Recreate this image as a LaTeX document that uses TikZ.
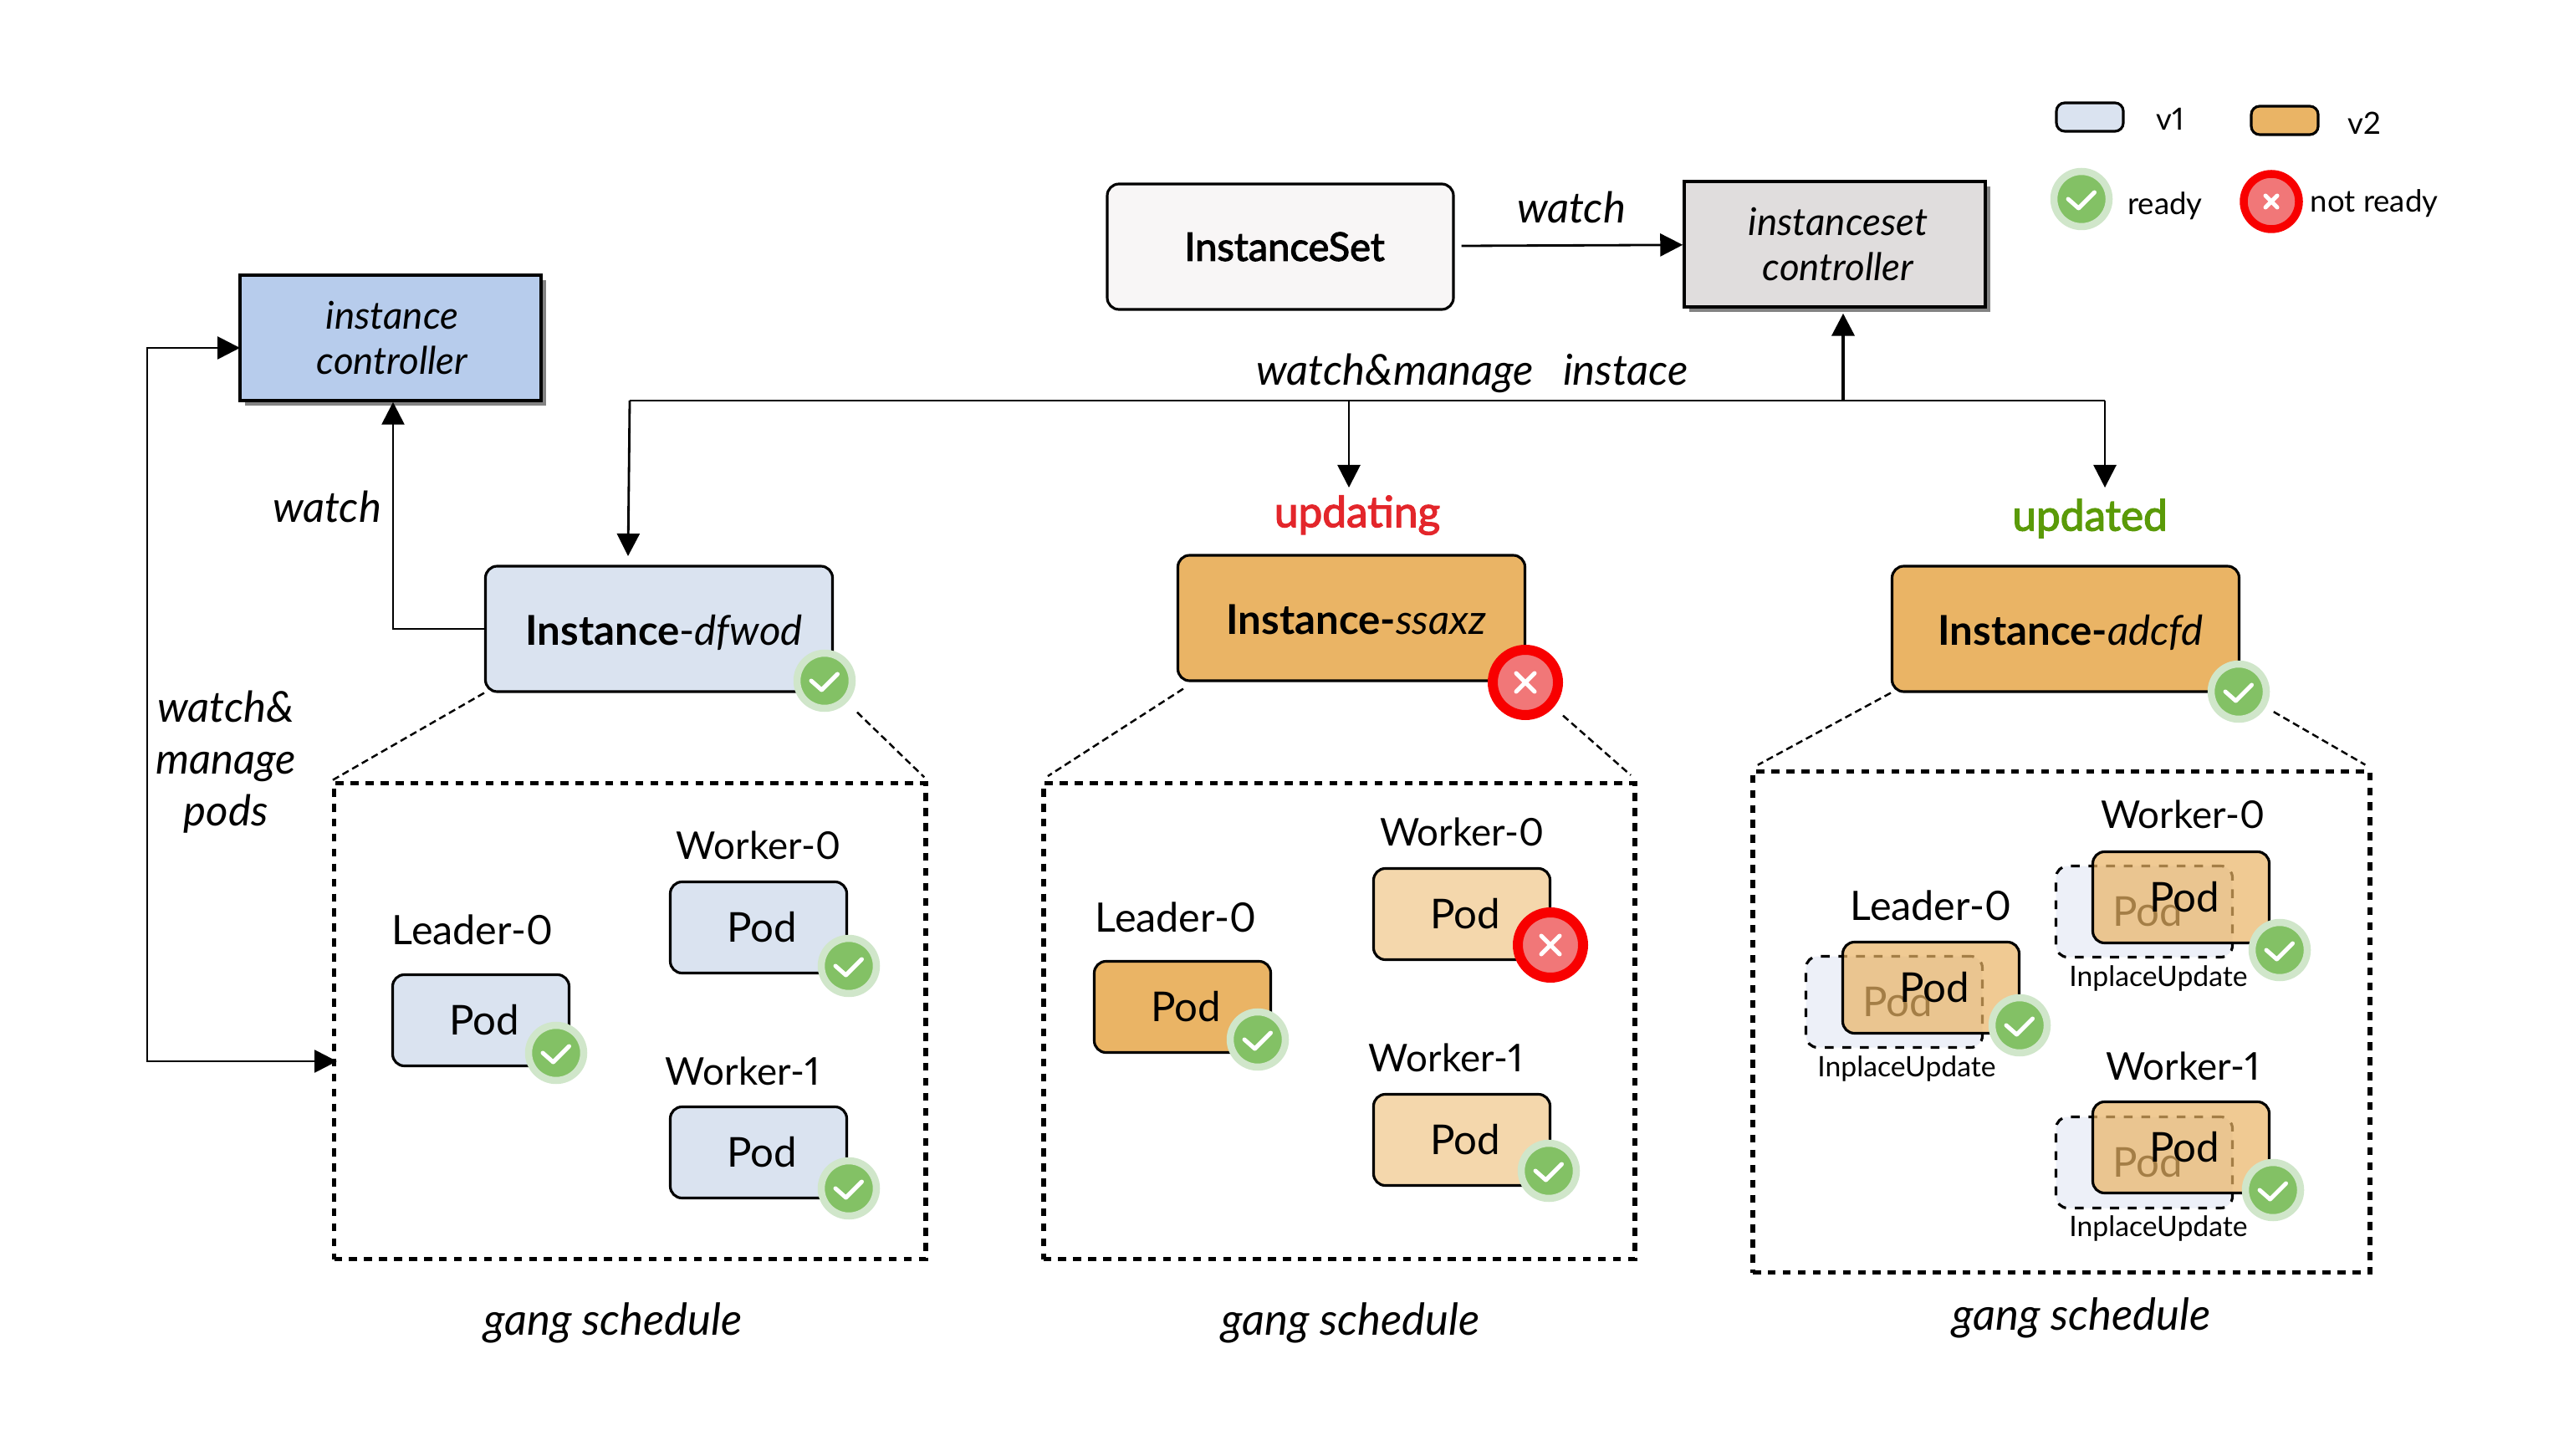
\documentclass[tikz,border=0pt]{standalone}
\usepackage{fontspec}
\setmainfont{Lato}[Numbers=Proportional]
\newfontfamily\medfont[FakeBold=2.5, Numbers=Proportional]{Lato}
\usepackage{tikz}
\usetikzlibrary{arrows.meta, positioning, calc, shadows}

\definecolor{vonefill}{HTML}{DAE3F0}
\definecolor{vtwofill}{HTML}{EAB465}
\definecolor{vtwolight}{HTML}{F4D7AC}
\definecolor{ghostfill}{HTML}{EDF0F8}
\definecolor{okgreen}{HTML}{83C165}
\definecolor{okring}{HTML}{D0E6CA}
\definecolor{failred}{HTML}{F17778}
\definecolor{failring}{HTML}{F80000}
\definecolor{instctrlfill}{HTML}{B7CCEC}
\definecolor{setctrlfill}{HTML}{E0DDDD}
\definecolor{setfill}{HTML}{F8F6F6}
\definecolor{updatingred}{HTML}{E3262B}
\definecolor{updatedgreen}{HTML}{5A9A08}

\begin{document}
\begin{tikzpicture}[
  ctrlbox/.style={draw, line width=1pt, minimum width=3.6cm, minimum height=1.5cm, align=center, font=\fontsize{13}{15.5}\selectfont\itshape, drop shadow={shadow xshift=0.06cm, shadow yshift=-0.06cm, opacity=0.65, fill=black!75}},
  instbox/.style={draw, line width=0.9pt, rounded corners=0.14cm, minimum width=4.15cm, minimum height=1.5cm, text height=0.4cm, text depth=0cm, font=\fontsize{14}{16}\selectfont},
  podbox/.style={draw, line width=0.9pt, rounded corners=0.14cm, minimum width=2.11cm, minimum height=1.09cm, font=\fontsize{14}{16}\selectfont},
  newpod/.style={podbox, fill=vtwofill, fill opacity=0.7, text opacity=1},
  ghostpod/.style={podbox, dashed, fill=ghostfill},
  legendbox/.style={draw, line width=0.9pt, rounded corners=0.1cm, minimum width=0.8cm, minimum height=0.34cm},
  group/.style={draw, line width=1.7pt, dash pattern=on 2.7pt off 2.4pt, minimum width=7.07cm, minimum height=5.69cm},
  guide/.style={line width=0.7pt, dash pattern=on 2.4pt off 1.4pt},
  arrow/.style={-{Triangle[length=0.27cm, width=0.27cm]}, line width=0.8pt},
  lbl/.style={font=\fontsize{13.8}{16}\selectfont},
  worklbl/.style={font=\fontsize{13}{16}\selectfont},
  note/.style={font=\fontsize{14.5}{17.7}\selectfont\itshape, align=center},
  gang/.style={font=\fontsize{15}{17}\selectfont\itshape},
  small/.style={font=\fontsize{10.4}{12}\selectfont},
  tiny/.style={font=\fontsize{9.6}{12}\selectfont},
  okbadge/.style={circle, inner sep=0pt, minimum size=0.66cm, fill=okgreen, draw=okring, line width=0.085cm,
    path picture={\draw[white, line width=0.05cm, line cap=round, line join=round]
      ($(path picture bounding box.center)+(-0.16,0)$) -- ++(0.125,-0.11) -- ++(0.19,0.19);}},
  failbadge/.style={circle, inner sep=0pt, minimum size=0.78cm, fill=failred, draw=failring, line width=0.12cm,
    path picture={\draw[white, line width=0.05cm, line cap=round]
      ($(path picture bounding box.center)+(-#1,-#1)$) -- ($(path picture bounding box.center)+(#1,#1)$)
      ($(path picture bounding box.center)+(-#1,#1)$) -- ($(path picture bounding box.center)+(#1,-#1)$);}},
  failbadge/.default=0.11
]
\useasboundingbox (0,0) rectangle (30.66,17.40);

% legend
\node[legendbox, fill=vonefill] (legendvone) at (24.99,16.00) {};
\node[small] (legendvonetext) at (25.95,15.98) {v1};
\node[legendbox, fill=vtwofill] (legendvtwo) at (27.32,15.96) {};
\node[small] (legendvtwotext) at (28.27,15.93) {v2};
\node[okbadge] (legendready) at (24.89,15.02) {};
\node[small] (legendreadytext) at (25.89,14.94) {ready};
\node[failbadge=0.07, minimum size=0.66cm, line width=0.095cm] (legendfail) at (27.16,14.99) {};
\node[small] (legendfailtext) at (28.39,14.97) {not ready};

% controllers
\node[draw, line width=0.9pt, rounded corners=0.14cm, fill=setfill, minimum width=4.14cm, minimum height=1.5cm, font=\fontsize{13.4}{15}\selectfont\medfont] (iset) at (15.31,14.45) {\hspace*{0.1cm}InstanceSet};
\node[ctrlbox, fill=setctrlfill] (isetctrl) at (21.94,14.48) {\hspace*{0.08cm}instanceset\\\hspace*{0.08cm}controller};
\node[ctrlbox, fill=instctrlfill] (instctrl) at (4.67,13.36) {\hspace*{0.04cm}instance\\\hspace*{0.04cm}controller};

% instances
\node[instbox, fill=vonefill] (instone) at (7.88,9.88) {\hspace*{0.12cm}\textbf{Instance}-\textit{dfwod}};
\node[instbox, fill=vtwofill] (insttwo) at (16.16,10.01) {\hspace*{0.12cm}\textbf{Instance-}\textit{ssaxz}};
\node[instbox, fill=vtwofill] (instthree) at (24.70,9.88) {\hspace*{0.12cm}\textbf{Instance-}\textit{adcfd}};
\node[okbadge] (okone) at (9.86,9.26) {};
\node[failbadge] (failtwo) at (18.24,9.24) {};
\node[okbadge] (okthree) at (26.77,9.13) {};

% pod groups
\node[group] (groupone) at (7.53,5.19) {};
\node[group] (grouptwo) at (16.01,5.19) {};
\node[group, minimum width=7.38cm, minimum height=5.99cm] (groupthree) at (24.65,5.18) {};

\node[lbl] (leadone) at (5.65,6.28) {Leader-0};
\node[worklbl] (workzeroone) at (9.07,7.29) {Worker-0};
\node[worklbl] (workoneone) at (8.88,4.59) {Worker-1};
\node[podbox, fill=vonefill] (podleadone) at (5.75,5.20) {\hspace*{0.08cm}Pod};
\node[podbox, fill=vonefill] (podzeroone) at (9.07,6.31) {\hspace*{0.08cm}Pod};
\node[podbox, fill=vonefill] (podoneone) at (9.07,3.62) {\hspace*{0.08cm}Pod};
\node[okbadge] (okleadone) at (6.65,4.81) {};
\node[okbadge] (okzeroone) at (10.15,5.85) {};
\node[okbadge] (okoneone) at (10.15,3.19) {};

\node[lbl] (leadtwo) at (14.06,6.43) {Leader-0};
\node[worklbl] (workzerotwo) at (17.48,7.45) {Worker-0};
\node[worklbl] (workonetwo) at (17.29,4.75) {Worker-1};
\node[podbox, fill=vtwofill] (podleadtwo) at (14.14,5.36) {\hspace*{0.08cm}Pod};
\node[podbox, fill=vtwolight] (podzerotwo) at (17.48,6.47) {\hspace*{0.08cm}Pod};
\node[podbox, fill=vtwolight] (podonetwo) at (17.48,3.77) {\hspace*{0.08cm}Pod};
\node[okbadge] (okleadtwo) at (15.04,4.97) {};
\node[failbadge] (failzerotwo) at (18.54,6.10) {};
\node[okbadge] (okonetwo) at (18.52,3.40) {};

\node[lbl] (leadthree) at (23.09,6.57) {Leader-0};
\node[worklbl] (workzerothree) at (26.10,7.66) {Worker-0};
\node[worklbl] (workonethree) at (26.10,4.65) {Worker-1};
\node[ghostpod] (ghostleadthree) at (22.65,5.42) {\hspace*{0.08cm}Pod};
\node[ghostpod] (ghostzerothree) at (25.64,6.50) {\hspace*{0.08cm}Pod};
\node[ghostpod] (ghostonethree) at (25.64,3.50) {\hspace*{0.08cm}Pod};
\node[newpod] (podleadthree) at (23.09,5.59) {\hspace*{0.08cm}Pod};
\node[newpod] (podzerothree) at (26.08,6.67) {\hspace*{0.08cm}Pod};
\node[newpod] (podonethree) at (26.08,3.68) {\hspace*{0.08cm}Pod};
\node[okbadge] (okleadthree) at (24.15,5.14) {};
\node[okbadge] (okzerothree) at (27.26,6.04) {};
\node[okbadge] (okonethree) at (27.18,3.17) {};
\node[tiny] (inplacelead) at (22.80,4.62) {InplaceUpdate};
\node[tiny] (inplacezero) at (25.81,5.70) {InplaceUpdate};
\node[tiny] (inplaceone) at (25.81,2.71) {InplaceUpdate};

% labels
\node[note] (watchset) at (18.79,14.92) {watch};
\node[note] (watchmanage) at (16.68,12.94) {watch\&manage};
\node[note] (instace) at (19.44,12.98) {instace};
\node[note] (watchinst) at (3.91,11.34) {watch};
\node[note] (managepods) at (2.70,8.29) {watch\&\\manage\\pods};
\node[font=\fontsize{14.6}{16}\selectfont\medfont, text=updatingred] (updating) at (16.23,11.24) {updating};
\node[font=\fontsize{14.6}{16}\selectfont\medfont, text=updatedgreen] (updated) at (24.99,11.20) {updated};
\node[gang] (gangone) at (7.33,1.58) {gang schedule};
\node[gang] (gangtwo) at (16.15,1.58) {gang schedule};
\node[gang] (gangthree) at (24.89,1.64) {gang schedule};

% connectors
\coordinate (busleft) at (7.53,12.61);
\coordinate (busmid) at (16.13,12.61);
\coordinate (busright) at (25.17,12.61);
\coordinate (busctrl) at (22.04,12.61);
\coordinate (tipone) at (7.51,10.75);
\coordinate (tiptwo) at (16.13,11.57);
\coordinate (tipthree) at (25.17,11.57);
\coordinate (icin) at (2.87,13.24);
\coordinate (podin) at (4.03,4.71);
\coordinate (managetop) at (1.76,13.24);
\coordinate (managebot) at (1.76,4.71);

\draw[arrow, shorten <=0.08cm] (iset) -- (isetctrl);
\draw[line width=0.8pt] (busleft) -- (busright);
\draw[arrow] (busleft) -- (tipone);
\draw[arrow] (busmid) -- (tiptwo);
\draw[arrow] (busright) -- (tipthree);
\draw[arrow, line width=1.2pt, shorten >=0.06cm] (busctrl) -- (busctrl |- isetctrl.south);
\draw[arrow] (instone.west) -| ([xshift=0.03cm]instctrl.south);
\draw[{Triangle[length=0.27cm, width=0.27cm]}-{Triangle[length=0.27cm, width=0.27cm]}, line width=0.8pt] (icin) -- (managetop) -- (managebot) -- (podin);

\draw[guide] (instone.south west) -- (groupone.north west);
\draw[guide, shorten <=0.17cm, shorten >=0.06cm] (okone) -- (groupone.north east);
\draw[guide, shorten >=0.1cm] ([xshift=0.08cm, yshift=-0.08cm]insttwo.south west) -- (grouptwo.north west);
\draw[guide, shorten <=0.15cm, shorten >=0.1cm] (failtwo) -- (grouptwo.north east);
\draw[guide, shorten >=0.1cm] (instthree.south west) -- (groupthree.north west);
\draw[guide, shorten <=0.11cm, shorten >=0.1cm] (okthree) -- (groupthree.north east);

\end{tikzpicture}
\end{document}
